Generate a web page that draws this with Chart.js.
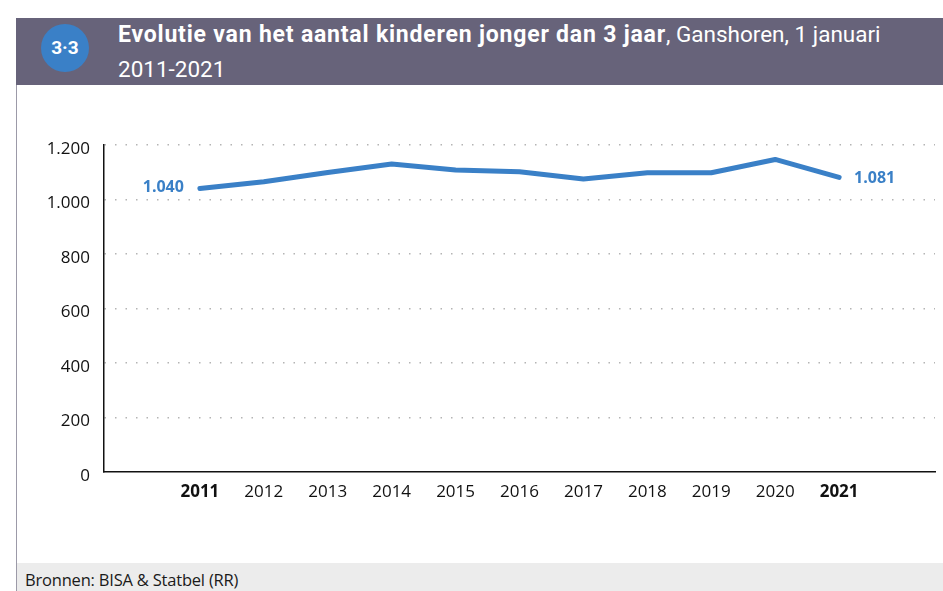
<!doctype html>
<html>
<head>
<meta charset="UTF-8">
<script src="https://cdn.jsdelivr.net/npm/chart.js"></script>
<style>
  html, body { margin: 0; padding: 0; background: #fff; }
  body { width: 943px; height: 591px; position: relative; overflow: hidden; font-family: "Open Sans", sans-serif; }
  .frame { position: absolute; left: 16px; top: 18px; width: 1px; height: 573px; background: #9c9aa8; }
  .header { position: absolute; left: 16px; top: 18px; width: 927px; height: 67px; background: #67637a; color: #fff; }
  .badge { position: absolute; left: 41px; top: 24px; width: 48px; height: 48px; border-radius: 50%; background: #3a80c7;
           color: #fff; font: bold 19px Roboto, sans-serif; text-align: center; line-height: 48px; }
  .title { position: absolute; left: 118px; top: 17px; font: 22.5px Roboto, sans-serif; line-height: 34px; color: #fff; }
  .title b { font-weight: bold; font-size: 23px; letter-spacing: 0.8px; }
  .footer { position: absolute; left: 17px; top: 563px; width: 926px; height: 28px; background: #ececec; }
  .footer span { position: absolute; left: 8px; top: 5px; font: 16.5px "Open Sans", sans-serif; color: #1a1a1a; letter-spacing: -0.2px; }
  #wrap { position: absolute; left: 17px; top: 86px; width: 926px; height: 477px; }
</style>
</head>
<body>
<div class="frame"></div>
<div class="header"></div>
<div class="badge">3·3</div>
<div class="title"><b>Evolutie van het aantal kinderen jonger dan 3 jaar</b>, Ganshoren, 1 januari<br>2011-2021</div>
<div id="wrap"><canvas id="chart"></canvas></div>
<div class="footer"><span>Bronnen: BISA &amp; Statbel (RR)</span></div>

<script>
    // data
    const years = [2011, 2012, 2013, 2014, 2015, 2016, 2017, 2018, 2019, 2020, 2021];
    const children = [1040, 1065, 1099, 1130, 1108, 1102, 1075, 1098, 1098, 1147, 1081];
    const boldYears = [2011, 2021];
    const yTicks = [0, 200, 400, 600, 800, 1000, 1200];

    const lineColor = '#3a80c7';

    function fmt(v) {
        return String(v).replace(/\B(?=(\d{3})+(?!\d))/g, '.');
    }

    // value labels at first and last point
    const endLabels = {
        id: 'endLabels',
        afterDatasetsDraw(chart) {
            const pts = chart.getDatasetMeta(0).data;
            const ctx = chart.ctx;
            ctx.save();
            ctx.fillStyle = lineColor;
            ctx.font = 'bold 16px "Open Sans", sans-serif';
            ctx.textBaseline = 'middle';
            const first = pts[0], last = pts[pts.length - 1];
            ctx.textAlign = 'right';
            ctx.fillText(fmt(children[0]), first.x - 16, first.y - 1);
            ctx.textAlign = 'left';
            ctx.fillText(fmt(children[children.length - 1]), last.x + 15, last.y + 1);
            ctx.restore();
        }
    };

    new Chart(document.getElementById('chart'), {
        type: 'line',
        data: {
            datasets: [{
                data: years.map((y, i) => ({ x: y, y: children[i] })),
                borderColor: lineColor,
                borderWidth: 5,
                borderCapStyle: 'round',
                borderJoinStyle: 'round',
                pointRadius: 0,
                tension: 0
            }]
        },
        options: {
            responsive: true,
            maintainAspectRatio: false,
            animation: false,
            layout: { padding: { top: 59, right: 8, left: 0, bottom: 0 } },
            plugins: {
                legend: { display: false },
                tooltip: { enabled: false }
            },
            scales: {
                x: {
                    type: 'linear',
                    min: 2009.5,
                    max: 2022.5,
                    afterBuildTicks: (s) => { s.ticks = years.map(v => ({ value: v })); },
                    afterFit: (s) => { s.height = 91; },
                    grid: { display: true, color: 'rgba(0,0,0,0)', drawTicks: false },
                    border: { display: true, color: '#111', width: 1.5 },
                    ticks: {
                        padding: 10,
                        color: '#111',
                        autoSkip: false,
                        maxRotation: 0,
                        callback: (v) => String(v),
                        font: (c) => ({
                            family: '"Open Sans", sans-serif',
                            size: 17,
                            weight: c.tick && boldYears.includes(c.tick.value) ? 'bold' : 'normal'
                        })
                    }
                },
                y: {
                    min: 0,
                    max: 1200,
                    afterBuildTicks: (s) => { s.ticks = yTicks.map(v => ({ value: v })); },
                    afterFit: (s) => { s.width = 87; },
                    grid: {
                        color: (c) => c.tick && c.tick.value === 0 ? 'rgba(0,0,0,0)' : '#b4b4b4',
                        lineWidth: 1.5,
                        drawTicks: false
                    },
                    border: { display: true, color: '#111', width: 1.5, dash: [1.5, 9] },
                    ticks: {
                        padding: 14,
                        labelOffset: 4,
                        color: '#111',
                        font: { family: '"Open Sans", sans-serif', size: 17 },
                        callback: (v) => fmt(v)
                    }
                }
            }
        },
        plugins: [endLabels]
    });
</script>
</body>
</html>
